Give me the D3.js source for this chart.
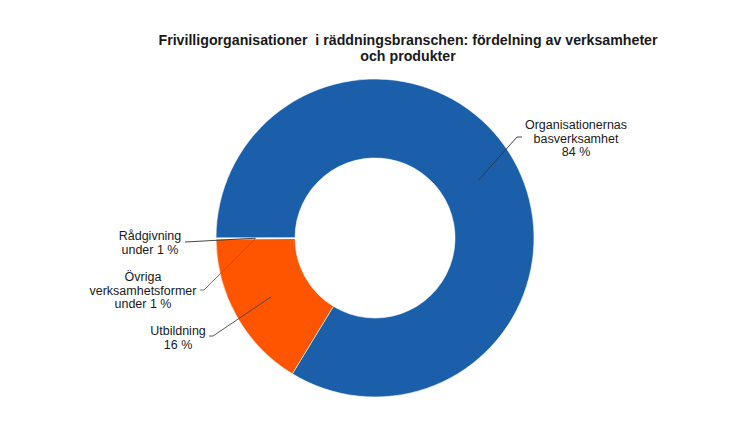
<!DOCTYPE html>
<html>
<head>
<meta charset="utf-8">
<script src="https://cdn.jsdelivr.net/npm/d3@7"></script>
<style>
  html, body { margin: 0; padding: 0; background: #fff; }
  svg { display: block; }
  text { font-family: "Liberation Sans", Arial, sans-serif; fill: #1a1a1a; }
</style>
</head>
<body>
<svg id="chart" width="750" height="436"></svg>
<script>
// ---- Data ----
const categories = [
  "Organisationernas basverksamhet",
  "Utbildning",
  "Övriga verksamhetsformer",
  "Rådgivning"
];
const values = [83.7, 16.2, 0.05, 0.05];
const labelLines = [
  ["Organisationernas", "basverksamhet", "84 %"],
  ["Utbildning", "16 %"],
  ["Övriga", "verksamhetsformer", "under 1 %"],
  ["Rådgivning", "under 1 %"]
];
const colors = ["#1B5FAB", "#FF5500", "#D9D9D9", "#E8E8E8"];
const titleLines = ["Frivilligorganisationer\u00a0 i räddningsbranschen: fördelning av verksamheter", "och produkter"];

// ---- Layout ----
const W = 750, H = 436;
const cx = 375, cy = 238, outerR = 159, innerR = 80;

// label layout: text anchor point (center x, first baseline), leader elbow
const labelLayout = [
  { x: 576, y: 129, elbow: [517, 137], end: [522, 137] },
  { x: 178, y: 335, elbow: [213, 336], end: [209, 336] },
  { x: 143, y: 281, elbow: [204, 290], end: [200, 290] },
  { x: 150, y: 240, elbow: null, end: [185, 242] }
];

const svg = d3.select("#chart");

// Title
svg.append("text")
  .attr("x", 408).attr("y", 45)
  .attr("text-anchor", "middle")
  .style("font-size", "14.2px").style("font-weight", "bold")
  .selectAll("tspan").data(titleLines).join("tspan")
  .attr("x", 408).attr("dy", (d, i) => i === 0 ? 0 : 16)
  .text(d => d);

const pie = d3.pie().sort(null).value(d => d)
  .startAngle(-Math.PI / 2).endAngle(1.5 * Math.PI);
const arcs = pie(values);
const arc = d3.arc().innerRadius(innerR).outerRadius(outerR);
const midArc = d3.arc().innerRadius((innerR + outerR) / 2).outerRadius((innerR + outerR) / 2);

const g = svg.append("g").attr("transform", `translate(${cx},${cy})`);
g.selectAll("path").data(arcs).join("path")
  .attr("d", arc)
  .attr("fill", (d, i) => colors[i])
  .attr("stroke", "#ffffff")
  .attr("stroke-width", 0.6);

// Leader lines
const leaderColors = ["#333", "#444", "#666", "#333"];
arcs.forEach((a, i) => {
  const c = midArc.centroid(a);
  const p0 = [cx + c[0], cy + c[1]];
  const L = labelLayout[i];
  const pts = L.elbow ? [p0, L.elbow, L.end] : [p0, L.end];
  svg.append("path")
    .attr("d", d3.line()(pts))
    .attr("fill", "none")
    .attr("stroke", leaderColors[i])
    .attr("stroke-width", 0.9);
});

// Labels
labelLayout.forEach((L, i) => {
  const t = svg.append("text")
    .attr("x", L.x).attr("y", L.y)
    .attr("text-anchor", "middle")
    .style("font-size", "12.5px");
  t.selectAll("tspan").data(labelLines[i]).join("tspan")
    .attr("x", L.x).attr("dy", (d, j) => j === 0 ? 0 : 13.7)
    .text(d => d);
});
</script>
</body>
</html>
